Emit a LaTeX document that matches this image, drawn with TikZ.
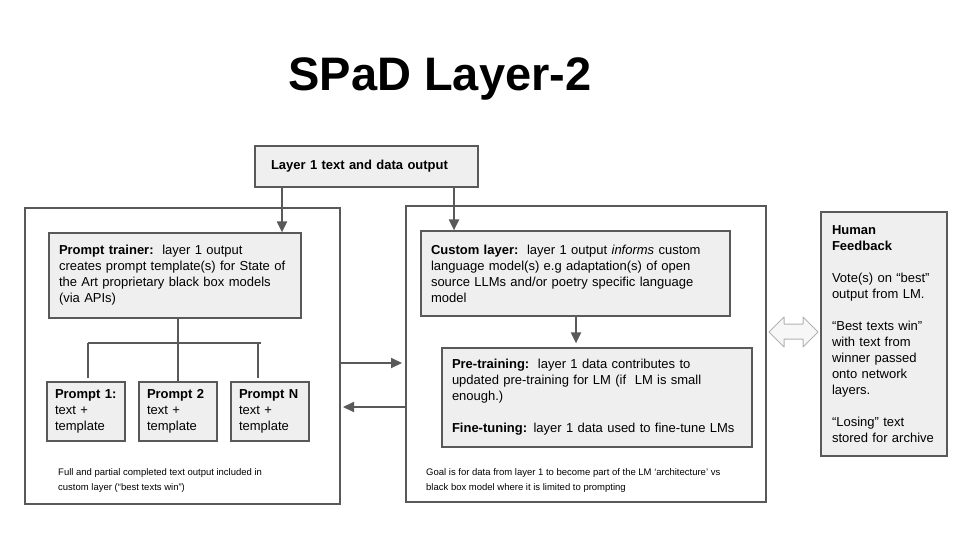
\documentclass[tikz,border=0pt]{standalone}
\usepackage{fontspec}
\setmainfont{Liberation Sans}
\usepackage{tkz-euclide}
\usetikzlibrary{arrows.meta}
\definecolor{edge}{HTML}{595959}
\definecolor{shade}{HTML}{EFEFEF}

\begin{document}
\begin{tikzpicture}[x=1pt, y=-1pt,
  every node/.style={font=\fontsize{13}{16}\selectfont, align=left},
  frame/.style={draw=edge, line width=2pt, inner sep=0pt},
  box/.style={draw=edge, fill=shade, line width=1.2pt, inner ysep=0pt},
  pbox/.style={box, inner xsep=8pt, text width=62pt, minimum height=59pt},
  conn/.style={draw=edge, line width=2pt},
  note/.style={font=\fontsize{9.5}{15.5}\selectfont, inner sep=0pt, anchor=north west},
  >={Triangle[length=11pt,width=10pt]}]
\path[fill=white] (0,0) rectangle (960,540);
\useasboundingbox (0,0) rectangle (960,540);
\node[font=\fontsize{47}{56}\selectfont\bfseries, anchor=base] (title) at (440,91) {SPaD Layer-2};
% outer frames
\node[frame, minimum width=315pt, minimum height=296pt] (lc) at (182.5,356) {};
\node[frame, minimum width=360pt, minimum height=296pt] (rc) at (586,354) {};
% boxes
\node[box, inner xsep=16pt, text width=191pt, minimum height=41pt] (top) at (366.5,166.5) {\textbf{Layer 1 text and data output}};
\node[box, inner xsep=10pt, text width=232pt, minimum height=85pt] (pt) at (175,275.5)
  {\textbf{Prompt trainer:}\ \ layer 1 output\\creates prompt template(s) for State of\\the Art proprietary black box models\\(via APIs)};
\node[pbox] (p1) at (86,411.5) {\textbf{Prompt 1:}\\text +\\template};
\node[pbox] (p2) at (178,411.5) {\textbf{Prompt 2}\\text +\\template};
\node[pbox] (pN) at (270,411.5) {\textbf{Prompt N}\\text +\\template};
\node[box, inner xsep=10pt, text width=289pt, minimum height=85pt] (cl) at (575.5,273.5)
  {\textbf{Custom layer:}\ \ layer 1 output \textit{informs} custom\\language model(s) e.g adaptation(s) of open\\source LLMs and/or poetry specific language\\model};
\node[box, inner xsep=10pt, text width=290pt, minimum height=99pt] (pre) at (597,397.5)
  {\textbf{Pre-training:}\ \ layer 1 data contributes to\\updated pre-training for LM (if\ \ LM is small\\enough.)\\[16pt]\textbf{Fine-tuning:} layer 1 data used to fine-tune LMs};
\node[box, inner xsep=11pt, text width=104pt, minimum height=244pt] (hf) at (884,334)
  {\textbf{Human}\\\textbf{Feedback}\\[16pt]Vote(s) on “best”\\output from LM.\\[16pt]“Best texts win”\\with text from\\winner passed\\onto network\\layers.\\[16pt]“Losing” text\\stored for archive};
\node[note] (lnote) at (58,468) {Full and partial completed text output included in\\custom layer (“best texts win”)};
\node[note] (rnote) at (426,468) {Goal is for data from layer 1 to become part of the LM ‘architecture’ vs\\black box model where it is limited to prompting};
% connectors
\tkzDefPoints{282/0/u, 454/0/v, 576/0/w, 0/363/r, 0/407/s, 88/343/b1, 261/343/b2, 258/343/b3}
\draw[conn,->] (top.south -| u) -- (pt.north -| u);
\draw[conn,->] (top.south -| v) -- (cl.north -| v);
\draw[conn,->,shorten >=4pt] (cl.south -| w) -- (pre.north -| w);
\draw[conn,->,shorten >=3pt] (lc.east |- r) -- (rc.west |- r);
\draw[conn,->,shorten >=2pt] (rc.west |- s) -- (lc.east |- s);
\draw[conn] (pt.south -| p2.north) -- (p2.north);
\draw[conn] (b1) -- (b2);
\draw[conn,shorten >=3pt] (b1) -- (b1 |- p1.north);
\draw[conn,shorten >=3pt] (b3) -- (b3 |- pN.north);
% double arrow to human feedback
\tkzDefPoints{769/332/L, 784/317/La, 784/324/Lb, 803/324/Rb, 803/317/Ra, 818/332/R, 803/347/Rc, 803/339/Rd, 784/339/Ld, 784/347/Lc}
\tkzDrawPolygon[draw=gray!60, fill=gray!6, line width=1pt](L,La,Lb,Rb,Ra,R,Rc,Rd,Ld,Lc)
\end{tikzpicture}
\end{document}
